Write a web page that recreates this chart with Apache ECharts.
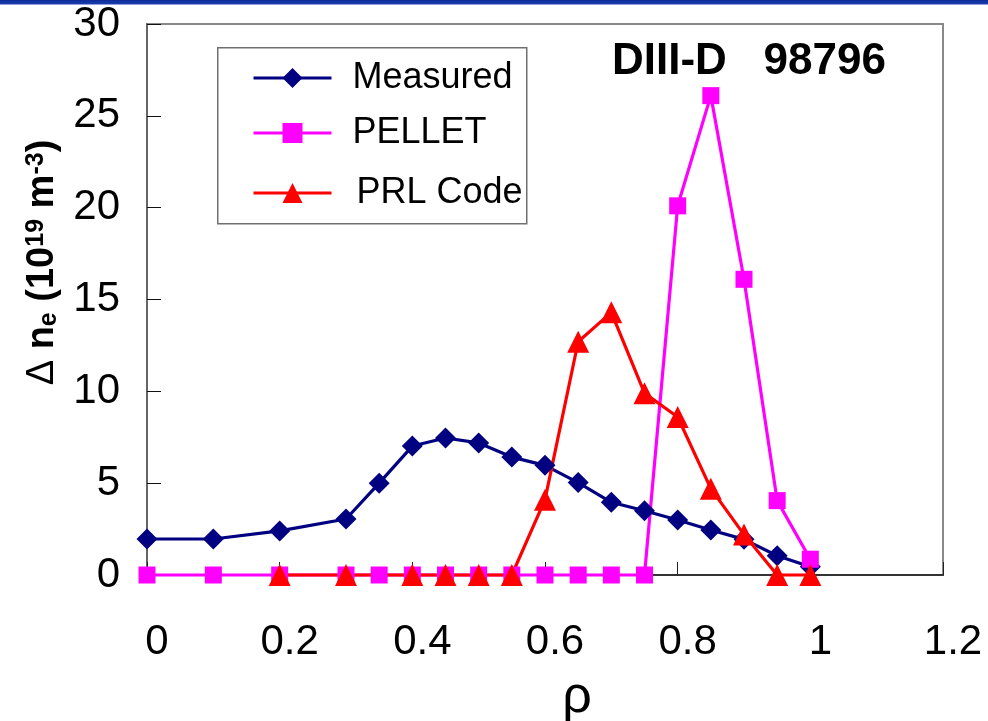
<!DOCTYPE html>
<html><head><meta charset="utf-8">
<script src="https://cdn.jsdelivr.net/npm/echarts@6/dist/echarts.min.js"></script>
<style>html,body{margin:0;padding:0;background:#fff}#c{width:988px;height:721px}</style>
</head><body><div id="c"></div>
<script>
// ---- data ----
const seriesNames = ['Measured', 'PELLET', 'PRL Code'];
const measuredRho = [0, 0.1, 0.2, 0.3, 0.35, 0.4, 0.45, 0.5, 0.55, 0.6, 0.65, 0.7, 0.75, 0.8, 0.85, 0.9, 0.95, 1.0];
const measuredVal = [1.96, 1.96, 2.4, 3.05, 5.0, 7.02, 7.46, 7.19, 6.42, 5.97, 5.03, 3.96, 3.5, 2.99, 2.45, 1.94, 1.05, 0.45];
const pelletRho = [0, 0.1, 0.2, 0.3, 0.35, 0.4, 0.45, 0.5, 0.55, 0.6, 0.65, 0.7, 0.75, 0.8, 0.85, 0.9, 0.95, 1.0];
const pelletVal = [0, 0, 0, 0, 0, 0, 0, 0, 0, 0, 0, 0, 0, 20.1, 26.1, 16.1, 4.05, 0.86];
const prlRho = [0.2, 0.3, 0.4, 0.45, 0.5, 0.55, 0.6, 0.65, 0.7, 0.75, 0.8, 0.85, 0.9, 0.95, 1.0];
const prlVal = [0, 0, 0, 0, 0, 0, 4.1, 12.7, 14.3, 9.9, 8.6, 4.7, 2.2, 0, 0];
const xTickLabels = ['0', '0.2', '0.4', '0.6', '0.8', '1', '1.2'];
const yTickLabels = ['0', '5', '10', '15', '20', '25', '30'];
const titleText = 'DIII-D   98796';
const xAxisTitle = 'ρ';

// ---- chart ----
const FONT = '"Liberation Sans", Arial, Helvetica, sans-serif';
function pairs(xs, ys) { return xs.map((x, i) => [x, ys[i]]); }
const colors = ['#000080', '#ff00ff', '#ff0000'];
const symbols = ['diamond', 'rect', 'triangle'];
const symbolSizes = [21, 17, 22];
const datasets = [pairs(measuredRho, measuredVal), pairs(pelletRho, pelletVal), pairs(prlRho, prlVal)];
const legendTops = [60, 115, 175];
const legendTextPad = [16, 16, 20];

const chart = echarts.init(document.getElementById('c'));
chart.setOption({
  animation: false,
  textStyle: { fontFamily: FONT },
  title: {
    text: titleText, left: 612, top: 40, padding: 0,
    textStyle: { fontSize: 44, fontWeight: 'bold', color: '#000', fontFamily: FONT }
  },
  grid: {
    left: 147, right: 45, top: 24, bottom: 146,
    show: true, borderColor: '#888', borderWidth: 2, backgroundColor: 'transparent',
    outerBoundsMode: 'none', containLabel: false
  },
  legend: seriesNames.map((n, i) => ({
    data: [n], left: 252, top: legendTops[i], orient: 'vertical', padding: 0,
    itemWidth: 78, itemHeight: 25, itemGap: 0, selectedMode: false,
    lineStyle: { width: 3 },
    textStyle: { fontSize: 36, color: '#000', fontFamily: FONT, padding: [0, 0, 0, legendTextPad[i]] }
  })),
  xAxis: {
    type: 'value', min: 0, max: 1.2, interval: 0.2,
    axisLine: { show: true, lineStyle: { color: '#333', width: 2 } },
    axisTick: { show: true, inside: true, length: 13, lineStyle: { color: '#222', width: 1 } },
    splitLine: { show: false },
    axisLabel: {
      fontSize: 42, color: '#000', margin: 46, padding: [0, 0, 0, 20], fontFamily: FONT,
      formatter: v => xTickLabels[Math.round(v / 0.2)]
    },
    name: xAxisTitle, nameLocation: 'middle', nameGap: 97,
    nameTextStyle: { fontSize: 52, color: '#000', fontFamily: FONT, padding: [0, 0, 0, 64] }
  },
  yAxis: {
    type: 'value', min: 0, max: 30, interval: 5,
    axisLine: { show: true, lineStyle: { color: '#666', width: 2 } },
    axisTick: { show: true, inside: true, length: 14, lineStyle: { color: '#111', width: 1 } },
    splitLine: { show: false },
    axisLabel: {
      fontSize: 42, color: '#000', margin: 27, fontFamily: FONT,
      formatter: v => yTickLabels[Math.round(v / 5)]
    },
    name: '{d|Δ} {b|n}{sub|e}{b| (10}{sup|19}{b| m}{sup|-3}{b|)}',
    nameLocation: 'middle', nameRotate: 90, nameGap: 85,
    nameTextStyle: {
      fontSize: 38, fontWeight: 'bold', color: '#000', fontFamily: FONT, padding: [0, 0, 0, 74],
      rich: {
        d: { fontSize: 38, fontWeight: 'normal', color: '#000', fontFamily: FONT },
        b: { fontSize: 38, fontWeight: 'bold', color: '#000', fontFamily: FONT },
        sub: { fontSize: 25, fontWeight: 'bold', color: '#000', fontFamily: FONT, verticalAlign: 'bottom', padding: [8, 0, 0, 0] },
        sup: { fontSize: 25, fontWeight: 'bold', color: '#000', fontFamily: FONT, verticalAlign: 'top' }
      }
    }
  },
  series: seriesNames.map((n, i) => ({
    name: n, type: 'line', data: datasets[i],
    symbol: symbols[i], symbolSize: symbolSizes[i], showAllSymbol: true, clip: false,
    itemStyle: { color: colors[i] },
    lineStyle: { color: colors[i], width: 3.2 },
    emphasis: { disabled: true }
  })),
  graphic: [
    { type: 'rect', left: 217, top: 47, shape: { width: 309, height: 176 },
      style: { fill: 'transparent', stroke: '#707070', lineWidth: 1.5 }, z: -1 },
    { type: 'rect', left: 0, top: 0, shape: { width: 988, height: 5 },
      style: { fill: new echarts.graphic.LinearGradient(0, 0, 0, 1, [
        { offset: 0, color: '#0b2b9c' }, { offset: 0.7, color: '#1a3aa8' }, { offset: 1, color: '#c8d0ee' }]) } }
  ]
});
</script>
</body></html>
